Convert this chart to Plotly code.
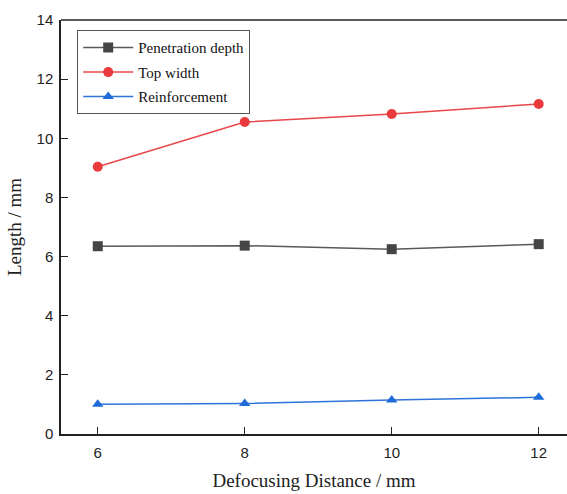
import plotly.graph_objects as go

# Defocusing distance (mm) and measured weld dimensions (mm)
defocus = [6, 8, 10, 12]
penetration_depth = [6.35, 6.37, 6.25, 6.42]
top_width = [9.04, 10.55, 10.82, 11.16]
reinforcement = [1.01, 1.03, 1.15, 1.24]

series = [
    ("Penetration depth", penetration_depth, "#454545", "#595959", "square"),
    ("Top width", top_width, "#ea3a3d", "#e8474b", "circle"),
    ("Reinforcement", reinforcement, "#1f6bd8", "#2f74d8", "triangle-up"),
]

fig = go.Figure()
for i, (name, vals, mcolor, lcolor, symbol) in enumerate(series):
    fig.add_trace(go.Scatter(
        x=defocus, y=vals, name=name, mode="lines+markers",
        line=dict(color=lcolor, width=1.5),
        marker=dict(symbol=symbol, size=10, color=mcolor),
        legendgroup=f"g{i}",
    ))

fig.update_layout(
    width=567, height=494,
    margin=dict(l=61, r=0, t=20, b=60),
    paper_bgcolor="white", plot_bgcolor="white",
    showlegend=True,
    legend=dict(
        x=0.032, y=0.975, xanchor="left", yanchor="top",
        bgcolor="white", bordercolor="#555", borderwidth=1,
        font=dict(family="Liberation Serif", size=15, color="#111"),
        itemwidth=50, tracegroupgap=2,
    ),
    xaxis=dict(
        range=[5.5, 12.385], tickvals=defocus, ticks="inside", ticklen=7,
        tickcolor="#222", showline=True, linecolor="#222", linewidth=1.5,
        mirror=False, showgrid=False, zeroline=False, ticklabelstandoff=4,
        tickfont=dict(family="Liberation Sans", size=15, color="#222"),
        title=dict(text="Defocusing Distance / mm", standoff=14,
                   font=dict(family="Liberation Serif", size=19, color="#222")),
    ),
    yaxis=dict(
        range=[0, 14], tickvals=[0, 2, 4, 6, 8, 10, 12, 14], ticks="inside",
        ticklen=7, tickcolor="#222", showline=True, linecolor="#222",
        linewidth=1.5, showgrid=False, zeroline=False, ticklabelstandoff=3,
        tickfont=dict(family="Liberation Sans", size=15, color="#222"),
        title=dict(text="Length / mm", standoff=10,
                   font=dict(family="Liberation Serif", size=19, color="#222")),
    ),
)
# top frame line
fig.add_shape(type="line", xref="paper", yref="paper", x0=0, x1=1, y0=1, y1=1,
              line=dict(color="#222", width=1.5))

fig.write_html("out.html")
